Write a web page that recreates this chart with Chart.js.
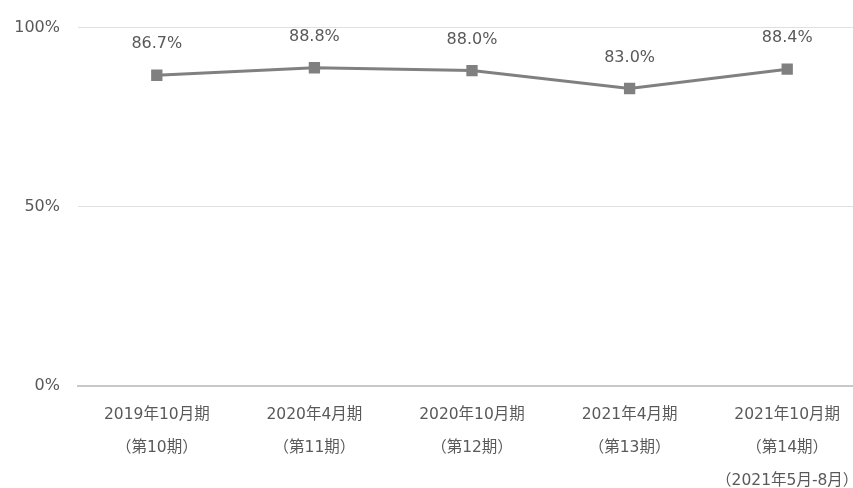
<!DOCTYPE html>
<html>
<head>
<meta charset="utf-8">
<script src="https://cdn.jsdelivr.net/npm/chart.js@4/dist/chart.umd.min.js"></script>
<style>
  html, body { margin: 0; padding: 0; background: #fff; overflow: hidden; }
  #wrap { width: 874px; height: 488px; }
</style>
</head>
<body>
<div id="wrap"><canvas id="lineChart" width="874" height="488"></canvas></div>
<script>
const categories = [
    ['2019年10月期', '（第10期）'],
    ['2020年4月期', '（第11期）'],
    ['2020年10月期', '（第12期）'],
    ['2021年4月期', '（第13期）'],
    ['2021年10月期', '（第14期）', '（2021年5月-8月）'],
]
const rates = [86.7, 88.8, 88.0, 83.0, 88.4]
const yTicks = [0, 50, 100]

const FONT = '"DejaVu Sans", "Noto Sans CJK JP", sans-serif'
const TEXT = '#595959'

// 値ラベル（datalabels プラグインの代わり）
const valueLabels = {
    id: 'valueLabels',
    afterDatasetsDraw(chart) {
        const ctx = chart.ctx
        const meta = chart.getDatasetMeta(0)
        ctx.save()
        ctx.font = '16px ' + FONT
        ctx.fillStyle = TEXT
        ctx.textAlign = 'center'
        ctx.textBaseline = 'middle'
        meta.data.forEach((pt, i) => {
            ctx.fillText(rates[i].toFixed(1) + '%', pt.x, pt.y - 31)
        })
        ctx.restore()
    }
}

var ctx = document.getElementById('lineChart').getContext('2d')
var myChart = new Chart(ctx, {
    type: 'line',
    data: {
        labels: categories,
        datasets: [
            {
                data: rates,
                borderColor: '#808080',
                borderWidth: 3,
                pointStyle: 'rect',
                pointRadius: 8,
                pointBackgroundColor: '#808080',
                pointBorderColor: '#808080',
                pointBorderWidth: 0,
                tension: 0,
            },
        ],
    },
    options: {
        responsive: false,
        animation: false,
        layout: { padding: { top: 15, right: 2, left: 0, bottom: 0 } },
        plugins: { legend: { display: false }, tooltip: { enabled: false } },
        scales: {
            x: {
                offset: true,
                grid: { display: false },
                border: { color: '#c8c8c8', width: 2 },
                ticks: {
                    color: TEXT,
                    font: { family: FONT, size: 15.5, lineHeight: 2.15 },
                    padding: 4,
                    maxRotation: 0,
                    autoSkip: false,
                },
                afterFit(scale) { scale.height = 102 },
            },
            y: {
                min: 0,
                max: 100,
                afterBuildTicks(scale) { scale.ticks = yTicks.map(v => ({ value: v })) },
                grid: { color: '#e0e0e0', lineWidth: 1, drawTicks: false },
                border: { display: false },
                ticks: {
                    color: TEXT,
                    font: { family: FONT, size: 16 },
                    padding: 18,
                    callback: v => v + '%',
                },
                afterFit(scale) { scale.width = 78 },
            },
        },
    },
    plugins: [valueLabels],
})
</script>
</body>
</html>
